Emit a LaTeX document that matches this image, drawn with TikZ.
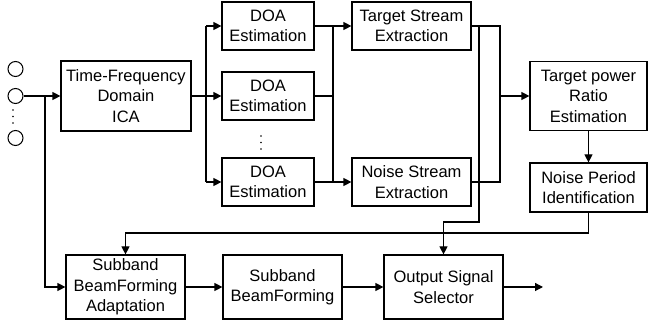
\documentclass[tikz,border=0pt]{standalone}
\usepackage{fontspec}
\setmainfont{Liberation Sans}
\usetikzlibrary{arrows.meta}
\begin{document}
\begin{tikzpicture}[x=1pt,y=-1pt,
  blk/.style={draw, line width=1.2pt, align=center, inner sep=0pt,
    font=\fontsize{16.5}{20.5}\selectfont},
  wire/.style={line width=1.2pt},
  arr/.style={line width=1.2pt, -{Triangle[length=8pt,width=8pt]}},
  mic/.style={draw, circle, line width=1pt, minimum size=15pt, inner sep=0pt}]
\useasboundingbox (0,0) rectangle (649,331);
% microphones
\node[mic] (mic1) at (15.5,69) {};
\node[mic] (mic2) at (15.5,96) {};
\node[mic] (mic3) at (15.5,138) {};
\foreach \yy in {110,116.5,123} \fill (13,\yy) circle (0.9);
% boxes
\node[blk, minimum width=130pt, minimum height=70pt] (ica) at (126,96) {Time-Frequency\\Domain\\ICA};
\node[blk, minimum width=92pt, minimum height=48pt] (doa1) at (268,26) {DOA\\Estimation};
\node[blk, minimum width=92pt, minimum height=48pt] (doa2) at (268,96) {DOA\\Estimation};
\node[blk, minimum width=92pt, minimum height=48pt] (doa3) at (268,182) {DOA\\Estimation};
\foreach \yy in {136,142.5,149} \fill (261,\yy) circle (0.9);
\node[blk, minimum width=119pt, minimum height=48pt] (tse) at (411.5,26) {Target Stream\\Extraction};
\node[blk, minimum width=119pt, minimum height=48pt] (nse) at (411.5,182) {Noise Stream\\Extraction};
\node[blk, minimum width=117pt, minimum height=69pt] (tpr) at (588.5,96) {Target power\\Ratio\\Estimation};
\node[blk, minimum width=117pt, minimum height=49pt] (npi) at (588.5,187.5) {Noise Period\\Identification};
\node[blk, minimum width=119pt, minimum height=64pt] (sba) at (125.5,287) {Subband\\BeamForming\\Adaptation};
\node[blk, minimum width=119pt, minimum height=64pt] (sbf) at (282.5,287) {Subband\\BeamForming};
\node[blk, minimum width=119pt, minimum height=64pt] (oss) at (443.5,287) {Output Signal\\Selector};
% junctions
\coordinate (j0) at (45,96);
\coordinate (b1) at (206,96);
\coordinate (b2) at (333,96);
\coordinate (b3) at (500,96);
\coordinate (t1) at (479,26);
\coordinate (t2) at (479,222);
\coordinate (f1) at (588.5,233);
\coordinate (out) at (543,287);
% connectors
\draw[arr] (mic2.east) -- (ica.west);
\draw[arr] (j0) |- (sba.west);
\draw[arr] (ica.east) -- (doa2.west);
\draw[wire] (b1 |- doa1.west) -- (b1 |- doa3.west);
\draw[arr] (b1 |- doa1.west) -- (doa1.west);
\draw[arr] (b1 |- doa3.west) -- (doa3.west);
\draw[arr] (doa1.east) -- (tse.west);
\draw[wire] (doa2.east) -- (b2);
\draw[arr] (doa3.east) -- (nse.west);
\draw[wire] (b2 |- doa1.east) -- (b2 |- doa3.east);
\draw[wire] (tse.east) -| (b3) |- (nse.east);
\draw[arr] (b3) -- (tpr.west);
\draw[arr] (t1) -- (t2) -| (oss.north);
\draw[arr] (tpr.south) -- (npi.north);
\draw[arr] (npi.south) -- (f1) -| (sba.north);
\draw[arr] (sba.east) -- (sbf.west);
\draw[arr] (sbf.east) -- (oss.west);
\draw[arr] (oss.east) -- (out);
\end{tikzpicture}
\end{document}
